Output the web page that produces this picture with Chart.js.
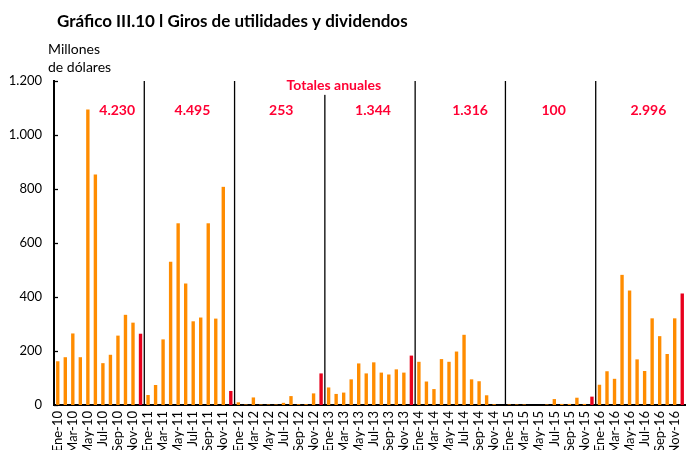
<!DOCTYPE html>
<html><head><meta charset="utf-8">
<script src="https://cdn.jsdelivr.net/npm/chart.js@4"></script>
<style>html,body{margin:0;padding:0;background:#fff;overflow:hidden}#wrap{width:686px;height:450px;position:relative}</style>
</head><body><div id="wrap"><canvas id="c" width="686" height="450"></canvas></div>
<script>
const MONTHS = ['Ene','Feb','Mar','Abr','May','Jun','Jul','Ago','Sep','Oct','Nov','Dic'];
const YEARS = ['10','11','12','13','14','15','16'];
const V2010 = [162,177,265,177,1094,854,155,186,257,334,305,264];
const V2011 = [37,74,243,531,673,450,310,324,673,320,808,52];
const V2012 = [10,2,28,2,2,2,8,33,3,3,43,117];
const V2013 = [65,41,46,95,154,117,158,120,113,132,120,183];
const V2014 = [160,87,59,170,160,198,260,95,88,36,3,0];
const V2015 = [2,2,2,0,0,2,22,4,4,27,4,31];
const V2016 = [75,125,97,482,424,169,126,321,255,189,321,413];
const TOTALS = ['4.230','4.495','253','1.344','1.316','100','2.996'];
const Y_TICKS = [0,200,400,600,800,1000,1200];
const TITLE = 'Gráfico III.10 l Giros de utilidades y dividendos';
const UNIT = ['Millones','de dólares'];
const TOTALS_HEADER = 'Totales anuales';

// layout / style constants
const ORANGE = '#FF8C00', RED = '#E8001C', TEXT_RED = '#FF0033';
const TOTAL_OFFSETS = [7.9,5.9,5.7,5.9,6.8,5.9,6.5];
const TOTAL_VALUE = 1092;
const HEADER_POS = {index:36.7, value:1182};
const FONT = 'Lato';

const labels = [];
YEARS.forEach(y => MONTHS.forEach(m => labels.push(m + '-' + y)));
const values = [].concat(V2010,V2011,V2012,V2013,V2014,V2015,V2016);
const colors = values.map((v,i) => (i % 12 === 11) ? RED : ORANGE);
const fmt = v => String(v).replace(/\B(?=(\d{3})+(?!\d))/g,'.');

const deco = {
  id:'deco',
  beforeDraw(chart){
    const c = chart.ctx; c.save(); c.fillStyle='#fff'; c.fillRect(0,0,chart.width,chart.height); c.restore();
  },
  afterDatasetsDraw(chart){
    const {ctx, chartArea:a, scales:{x,y}} = chart;
    ctx.save();
    ctx.strokeStyle = '#000'; ctx.lineWidth = 1.3;
    for (let k=1;k<YEARS.length;k++){
      const px = (x.getPixelForValue(k*12-1) + x.getPixelForValue(k*12)) / 2;
      ctx.beginPath(); ctx.moveTo(px, a.top); ctx.lineTo(px, a.bottom); ctx.stroke();
    }
    Y_TICKS.forEach(v => {
      const py = Math.round(y.getPixelForValue(v)) + 0.5;
      ctx.beginPath(); ctx.moveTo(a.left, py); ctx.lineTo(a.left + 4, py); ctx.stroke();
    });
    ctx.font = 'bold 14px ' + FONT;
    ctx.textAlign = 'center'; ctx.textBaseline = 'middle';
    const hx = x.getPixelForValue(HEADER_POS.index), hy = y.getPixelForValue(HEADER_POS.value);
    const hw = ctx.measureText(TOTALS_HEADER).width;
    ctx.fillStyle = '#fff'; ctx.fillRect(hx - hw/2 - 3, hy - 9, hw + 6, 18);
    ctx.fillStyle = TEXT_RED; ctx.fillText(TOTALS_HEADER, hx, hy);
    TOTALS.forEach((t,k) => {
      ctx.fillText(t, x.getPixelForValue(k*12 + TOTAL_OFFSETS[k]), y.getPixelForValue(TOTAL_VALUE));
    });
    ctx.fillStyle = '#000'; ctx.textAlign = 'left';
    ctx.font = 'bold 17px ' + FONT;
    ctx.fillText(TITLE, 57, 22);
    ctx.font = '14px ' + FONT;
    ctx.fillText(UNIT[0], 48, 49);
    ctx.fillText(UNIT[1], 48, 67);
    ctx.restore();
  }
};

new Chart(document.getElementById('c'), {
  type:'bar',
  data:{labels, datasets:[{data:values, backgroundColor:colors, barPercentage:0.45, categoryPercentage:1}]},
  options:{
    responsive:false, animation:false, devicePixelRatio:1,
    layout:{padding:{top:81,left:0,right:0,bottom:0}},
    plugins:{legend:{display:false}, tooltip:{enabled:false}, title:{display:false}},
    scales:{
      x:{
        ticks:{autoSkip:false, maxRotation:90, minRotation:90, color:'#000', padding:6,
          font:{family:FONT,size:13},
          callback:function(v,i){ return i%2===0 ? this.getLabelForValue(v) : ''; }},
        grid:{display:false, drawTicks:false},
        border:{display:true, color:'#000', width:2},
        afterFit:s => { s.height = 45; s.paddingLeft = 0; s.paddingRight = 0; }
      },
      y:{
        min:0, max:1200,
        afterBuildTicks:s => { s.ticks = Y_TICKS.map(v => ({value:v})); },
        ticks:{color:'#000', padding:12, font:{family:FONT,size:13}, callback:v => fmt(v)},
        grid:{display:false, drawTicks:false},
        border:{display:true, color:'#000', width:2},
        afterFit:s => { s.width = 54; s.paddingTop = 0; s.paddingBottom = 0; }
      }
    }
  },
  plugins:[deco]
});
</script></body></html>
